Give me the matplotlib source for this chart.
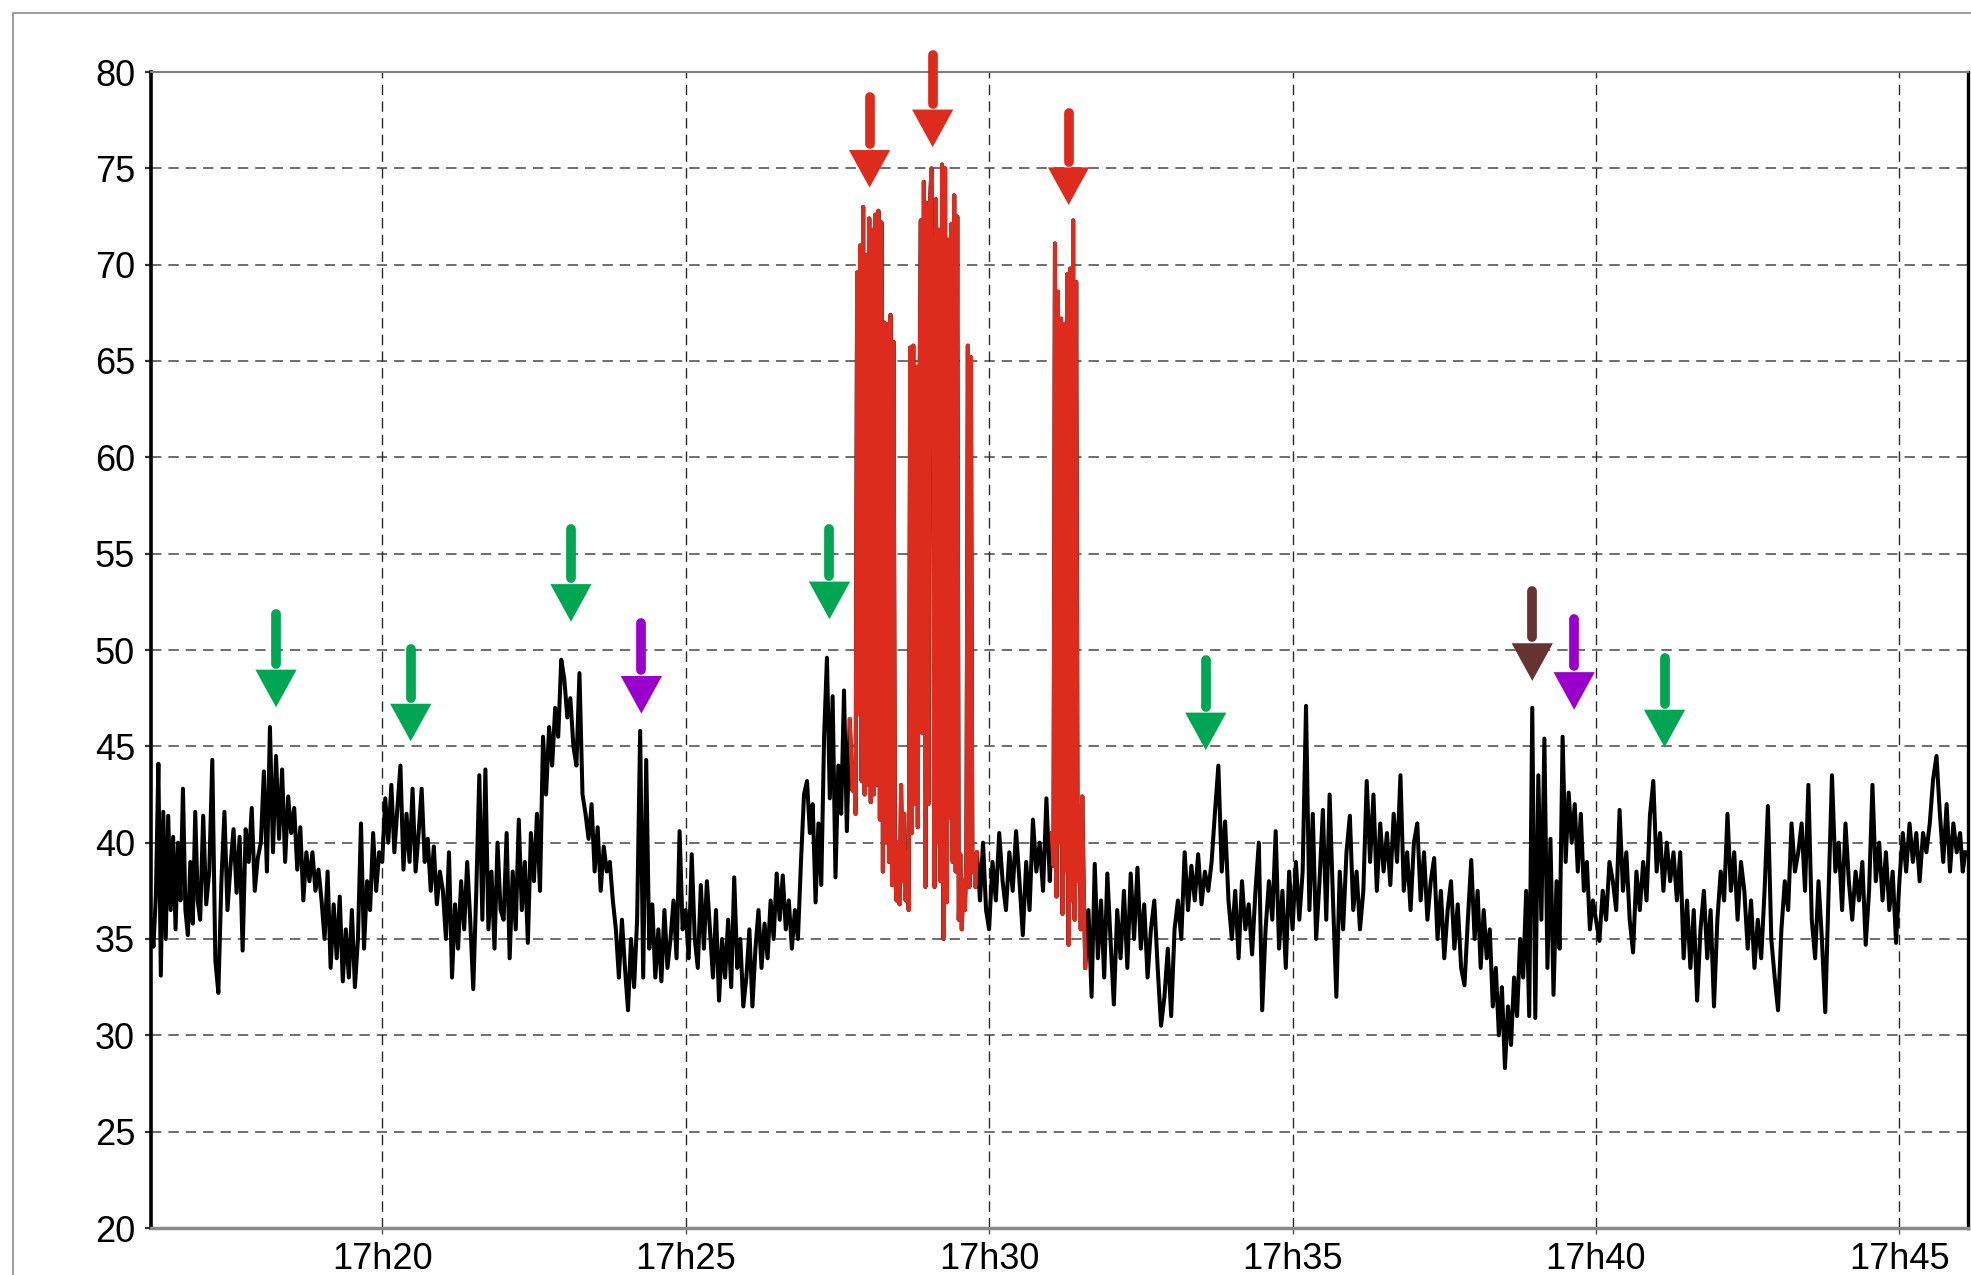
import numpy as np
import matplotlib
matplotlib.use("Agg")
import matplotlib.pyplot as plt
from matplotlib.patches import Rectangle

plt.rcParams['font.family'] = ['Liberation Sans', 'DejaVu Sans']
plt.rcParams['lines.scale_dashes'] = False

# ---------------- data (time in minutes after 17h00, level) -------------
m16 = [36.0, 34.6, 37.3, 44.1, 33.1, 41.6, 35.0, 41.4, 36.5, 40.3, 35.5, 40.0, 37.0, 42.8, 36.5, 35.2, 39.0, 35.8, 41.6, 37.0]
m17 = [36.0, 41.4, 36.8, 38.5, 44.3, 33.9, 32.2, 38.0, 41.6, 36.5, 38.8, 40.7, 37.4, 40.3, 34.4, 40.7, 39.0, 41.8, 37.5, 39.2]
m18 = [40.0, 43.7, 38.5, 46.0, 39.5, 44.5, 40.2, 43.8, 39.0, 42.4, 40.5, 41.8, 38.6, 40.8, 37.0, 39.5, 38.0, 39.5, 37.5, 38.6]
m19 = [37.0, 35.0, 38.5, 33.5, 36.8, 34.0, 37.2, 32.8, 35.5, 33.0, 36.5, 32.5, 35.0, 41.0, 34.5, 38.0, 36.5, 40.5, 37.5, 39.5]
m20 = [39.0, 42.3, 40.0, 43.0, 39.5, 41.8, 44.0, 38.6, 41.5, 39.0, 42.8, 38.5, 40.5, 42.8, 39.0, 40.2, 37.5, 39.8, 36.8, 38.5]
m21 = [37.5, 35.0, 39.5, 33.0, 36.8, 34.5, 38.0, 35.5, 39.0, 36.0, 32.4, 37.5, 43.5, 36.0, 43.8, 35.5, 38.5, 34.5, 40.0, 36.5]
m22 = [36.0, 40.5, 34.0, 38.5, 35.5, 41.2, 36.5, 39.0, 34.8, 40.5, 38.0, 41.5, 37.5, 45.5, 42.5, 46.0, 44.0, 47.0, 45.5, 49.5]
m23 = [48.5, 46.5, 47.5, 45.0, 44.0, 48.8, 42.5, 41.5, 40.2, 42.0, 38.5, 40.8, 37.5, 39.8, 38.5, 39.0, 37.0, 35.5, 33.0, 36.0]
m24 = [33.5, 31.3, 35.0, 32.5, 36.0, 45.8, 33.0, 44.3, 34.5, 36.8, 33.0, 35.5, 32.8, 36.5, 33.5, 35.0, 37.0, 34.0, 40.6, 35.5]
m25 = [36.5, 34.0, 39.4, 35.0, 33.5, 37.8, 34.5, 38.0, 35.5, 33.0, 36.5, 31.8, 35.0, 33.0, 36.0, 32.5, 38.2, 33.5, 35.0, 31.5]
m26 = [33.0, 35.5, 31.5, 34.5, 36.5, 33.5, 35.8, 34.0, 37.0, 35.0, 38.4, 36.0, 38.3, 35.5, 37.0, 34.5, 36.5, 35.0, 39.0, 42.5]
m27 = [43.2, 40.5, 42.0, 36.9, 41.0, 37.8, 45.5, 49.6, 42.3, 47.6, 38.2, 44.0, 41.5, 47.9, 40.6, 46.4]
r27 = [42.7, 44.0, 41.5, 69.6, 46.7, 71.0, 43.2, 73.0, 42.5, 70.5]
r28 = [43.0, 72.4, 42.1, 71.8, 42.5, 72.6, 43.0, 72.8, 41.2, 72.2,
       38.5, 67.0, 40.0, 66.9, 39.0, 67.4, 37.8, 66.0, 38.5, 37.0,
       40.0, 36.8, 43.0, 38.0, 41.5, 37.0, 39.5, 36.5, 65.7, 40.5,
       65.8, 42.0, 64.7, 40.8, 61.7, 72.3, 45.7, 74.3, 37.7, 73.2]
r29 = [42.0, 73.1, 75.0, 65.3, 37.7, 73.4, 40.0, 71.8, 38.0, 75.2,
       35.0, 75.0, 36.9, 71.3, 41.3, 72.1, 39.0, 73.6, 38.5, 72.5,
       36.0, 39.4, 35.5, 38.0, 36.5, 39.0, 65.8, 37.7, 65.2, 38.5,
       39.4, 37.7]
m29 = [39.5, 37.0, 40.0, 36.5]
m30 = [35.5, 39.0, 37.0, 40.5, 38.0, 36.5, 39.5, 37.5, 40.6, 38.0, 35.2, 39.0, 36.5, 41.2, 38.5, 40.0, 37.5, 42.3]
m31a = [38.0, 40.5]
r31 = [38.8, 71.1, 37.2, 68.6, 40.0, 67.2, 36.3, 66.9, 38.5, 69.5,
       34.7, 69.8, 37.0, 72.3, 36.0, 69.1, 38.0, 41.9, 35.5, 42.4, 37.5]
m31b = [33.5, 36.5, 32.0, 38.9, 34.0, 37.0, 33.0, 38.4]
m32 = [35.0, 31.6, 36.5, 34.0, 37.5, 33.5, 38.4, 35.0, 38.7, 34.5, 36.8, 33.0, 35.5, 37.0, 33.5, 30.5, 32.0, 34.5]
m33 = [31.0, 35.5, 37.0, 35.0, 39.5, 36.5, 38.8, 37.0, 39.4, 36.8, 38.5, 37.5, 39.0, 41.6, 44.0, 38.5, 41.1, 37.0]
m34 = [35.0, 37.5, 34.0, 38.0, 35.5, 36.8, 34.2, 37.5, 40.0, 31.3, 35.5, 38.0, 36.0, 40.6, 34.5, 37.5, 33.5, 38.5]
m35 = [35.5, 39.0, 36.0, 38.5, 47.1, 36.5, 41.5, 35.0, 38.0, 41.7, 36.0, 42.5, 37.0, 32.0, 38.5, 35.5, 39.5, 41.4]
m36 = [36.5, 38.5, 35.5, 37.5, 43.2, 39.0, 42.5, 37.5, 41.0, 38.5, 40.5, 37.8, 41.5, 39.0, 43.5, 37.5, 39.5, 36.5]
m37 = [40.0, 41.0, 37.0, 39.5, 36.0, 38.0, 39.2, 35.0, 37.5, 34.0, 36.5, 38.0, 34.5, 36.8, 33.5, 32.6, 36.0, 39.1]
m38 = [35.0, 37.5, 33.5, 36.5, 34.0, 35.5, 31.5, 33.5, 30.0, 32.5, 28.3, 31.5, 29.5, 33.0, 31.0, 35.0, 33.0, 37.5, 31.0, 47.0]
m39 = [30.9, 43.5, 36.0, 45.4, 33.5, 40.2, 32.1, 38.0, 34.5, 45.5, 39.0, 42.6, 40.0, 42.0, 38.5, 41.5, 37.5, 39.0, 35.5, 37.0]
m40 = [36.0, 34.9, 37.5, 36.0, 39.0, 38.0, 36.5, 41.7, 37.5, 39.5, 36.0, 34.3, 38.5, 36.5, 39.0, 37.0, 41.4, 43.2]
m41 = [38.5, 40.5, 37.5, 40.0, 38.0, 39.5, 37.0, 39.5, 34.0, 37.0, 33.5, 36.5, 31.8, 35.5, 37.5, 34.0, 36.5, 31.5]
m42 = [36.0, 38.5, 37.0, 41.5, 37.5, 39.5, 36.0, 39.0, 37.5, 34.5, 37.0, 33.5, 36.0, 34.0, 37.5, 41.9, 35.0, 33.0]
m43 = [31.3, 35.5, 38.0, 36.5, 41.0, 38.5, 39.5, 41.0, 37.5, 43.0, 36.0, 34.0, 38.0, 35.0, 31.2, 37.5, 43.5, 38.5]
m44 = [40.0, 36.5, 41.0, 38.0, 36.0, 38.5, 37.0, 39.0, 34.7, 37.5, 43.0, 38.0, 40.0, 37.0, 39.5, 36.5, 38.5, 34.8]
m45 = [38.0, 40.5, 38.5, 41.0, 39.0, 40.5, 38.0, 40.5, 39.5, 41.0, 43.3, 44.5, 41.5, 39.0, 42.0, 38.5, 41.0, 39.5]
m46 = [40.5, 38.5, 39.5]

# time span (minutes) covered by each block of readings
segments = [
    (16.19, 17.0, m16), (17.0, 18.0, m17), (18.0, 19.0, m18), (19.0, 20.0, m19),
    (20.0, 21.0, m20), (21.0, 22.0, m21), (22.0, 23.0, m22), (23.0, 24.0, m23),
    (24.0, 25.0, m24), (25.0, 26.0, m25), (26.0, 27.0, m26), (27.0, 27.75, m27),
    (27.75, 28.0, r27), (28.0, 29.0, r28), (29.0, 29.8, r29), (29.8, 30.0, m29),
    (30.0, 31.0, m30), (31.0, 31.06, m31a), (31.06, 31.585, r31), (31.585, 32.0, m31b),
    (32.0, 33.0, m32), (33.0, 34.0, m33), (34.0, 35.0, m34), (35.0, 36.0, m35),
    (36.0, 37.0, m36), (37.0, 38.0, m37), (38.0, 39.0, m38), (39.0, 40.0, m39),
    (40.0, 41.0, m40), (41.0, 42.0, m41), (42.0, 43.0, m42), (43.0, 44.0, m43),
    (44.0, 45.0, m44), (45.0, 46.0, m45), (46.0, 46.13, m46),
]
red_spans = [(27.75, 29.8), (31.06, 31.585)]

# annotation arrows: time, top of shaft, tip (value units)
arrow_time = [18.25, 20.47, 23.11, 24.27, 27.37, 28.03, 29.07, 31.31, 33.57, 38.95, 39.64, 41.13]
arrow_tail = [51.85, 50.06, 56.3, 51.4, 56.3, 78.7, 80.9, 77.85, 49.5, 53.05, 51.6, 49.6]
arrow_tip = [47.03, 45.26, 51.47, 46.7, 51.6, 74.0, 76.1, 73.1, 44.8, 48.4, 46.9, 44.95]
arrow_kind = ['green', 'green', 'green', 'purple', 'green', 'red', 'red', 'red',
              'green', 'brown', 'purple', 'green']

x_tick_minutes = [20, 25, 30, 35, 40, 45]
x_tick_labels = ['17h20', '17h25', '17h30', '17h35', '17h40', '17h45']
y_ticks = list(range(20, 81, 5))

# ---------------- build series -------------
t_parts, v_parts = [], []
for start, end, vals in segments:
    t_parts.append(np.linspace(start, end, len(vals), endpoint=False))
    v_parts.append(np.asarray(vals, dtype=float))
t = np.concatenate(t_parts)
v = np.concatenate(v_parts)

in_red = np.zeros(t.shape, dtype=bool)
for a, b in red_spans:
    in_red |= (t >= a - 1e-9) & (t < b - 1e-9)
ext = in_red.copy()
ext[1:] |= in_red[:-1]
ext[:-1] |= in_red[1:]
v_red = np.where(ext, v, np.nan)

palette = {'green': '#00a651', 'purple': '#9900cc', 'red': '#dd2c1e', 'brown': '#663333'}

# ---------------- figure -------------
W, H = 1971, 1275
fig = plt.figure(figsize=(W / 100, H / 100), dpi=100)
fig.patch.set_facecolor('white')

# outer grey frame (partially outside the canvas)
fig.add_artist(Rectangle((13 / W, -0.5), 2.0, 0.5 + 1 - 13 / H, transform=fig.transFigure,
                         fill=False, edgecolor='#8c8c8c', linewidth=1.2))

ax = fig.add_axes([151 / W, 1 - 1228 / H, (1968 - 151) / W, (1228 - 72) / H])
ax.set_xlim(16.19, 46.13)
ax.set_ylim(20, 80)

for yv in y_ticks[1:-1]:
    ax.axhline(yv, color='#6e6e6e', lw=1.4, dashes=(7.5, 5), zorder=1)
for xv in x_tick_minutes:
    ax.axvline(xv, color='#2a2a2a', lw=1.0, dashes=(7.5, 4.5), zorder=1)

ax.plot(t, v, color='black', lw=2.9, zorder=3)
ax.plot(t, v_red, color='#dd2c1e', lw=2.8, zorder=4)

head_len = 1.95
head_half = 0.34
for tm, tail, tip, kind in zip(arrow_time, arrow_tail, arrow_tip, arrow_kind):
    c = palette[kind]
    base = tip + head_len
    ax.plot([tm, tm], [tail, base + 0.3], color=c, lw=7.0, solid_capstyle='round',
            zorder=6, clip_on=False)
    ax.fill([tm - head_half, tm + head_half, tm], [base, base, tip], color=c, lw=0,
            zorder=7, clip_on=False)

ax.set_xticks(x_tick_minutes)
ax.set_xticklabels(x_tick_labels)
ax.set_yticks(y_ticks)
ax.set_yticklabels([str(y) for y in y_ticks])
ax.tick_params(axis='y', length=4.5, width=1.6, color='#333333', labelsize=26, pad=7)
ax.tick_params(axis='x', length=4, width=1.0, color='#555555', labelsize=26, pad=6)

ax.spines['top'].set_color('#808080')
ax.spines['top'].set_linewidth(1.5)
ax.spines['bottom'].set_color('#8a8a8a')
ax.spines['bottom'].set_linewidth(2.5)
ax.spines['left'].set_color('black')
ax.spines['left'].set_linewidth(2.6)
ax.spines['right'].set_color('black')
ax.spines['right'].set_linewidth(2.4)

fig.savefig('out.png', dpi=100, facecolor='white')
